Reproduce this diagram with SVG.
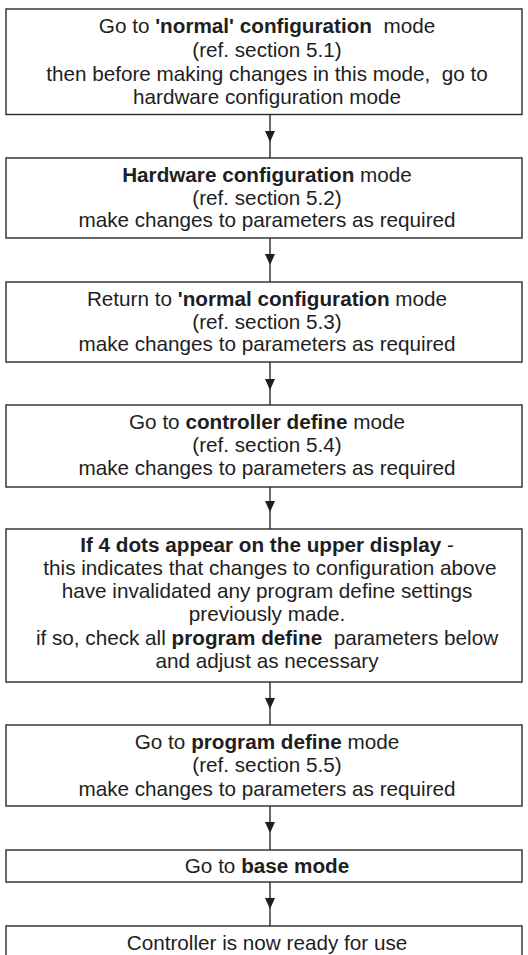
<svg xmlns="http://www.w3.org/2000/svg" width="528" height="955" viewBox="0 0 528 955">
  <defs>
    <style>
      .box { fill: #ffffff; stroke: #2a2a2a; stroke-width: 1.4; }
      .txt { font-family: "Liberation Sans", Arial, sans-serif; font-size: 20.7px; fill: #1e1e1e; text-anchor: middle; white-space: pre; }
      .b { font-weight: bold; }
      .link { fill: none; stroke: #2a2a2a; stroke-width: 1.4; marker-mid: url(#head); }
    </style>
    <!-- downward arrowhead placed on the middle vertex of each connector -->
    <marker id="head" viewBox="-11 -5 11 10" refX="0" refY="0" markerWidth="11" markerHeight="10" markerUnits="userSpaceOnUse" orient="auto">
      <path d="M-11,-5 L0,0 L-11,5 Z" fill="#1e1e1e"/>
    </marker>
  </defs>
  <rect width="528" height="955" fill="#ffffff"/>

  <g id="connectors">
    <path class="link" d="M270,114.5 L270,142 L270,158"/>
    <path class="link" d="M270,238 L270,265 L270,282"/>
    <path class="link" d="M270,362 L270,390 L270,405"/>
    <path class="link" d="M270,487 L270,512 L270,529"/>
    <path class="link" d="M270,682 L270,709 L270,725"/>
    <path class="link" d="M270,806 L270,833 L270,850"/>
    <path class="link" d="M270,882 L270,909 L270,926"/>
  </g>

  <g id="normal-config">
    <rect class="box" x="6" y="9" width="516" height="105.5"/>
    <text class="txt" x="267" y="33">Go to <tspan class="b">'normal' configuration</tspan>  mode</text>
    <text class="txt" x="267" y="56.5">(ref. section 5.1)</text>
    <text class="txt" x="267" y="80.5">then before making changes in this mode,  go to</text>
    <text class="txt" x="267" y="104">hardware configuration mode</text>
  </g>

  <g id="hardware-config">
    <rect class="box" x="6" y="158" width="516" height="80"/>
    <text class="txt" x="267" y="182"><tspan class="b">Hardware configuration</tspan> mode</text>
    <text class="txt" x="267" y="204.5">(ref. section 5.2)</text>
    <text class="txt" x="267" y="227">make changes to parameters as required</text>
  </g>

  <g id="return-normal">
    <rect class="box" x="6" y="282" width="516" height="80"/>
    <text class="txt" x="267" y="306">Return to <tspan class="b">'normal configuration</tspan> mode</text>
    <text class="txt" x="267" y="328.5">(ref. section 5.3)</text>
    <text class="txt" x="267" y="351">make changes to parameters as required</text>
  </g>

  <g id="controller-define">
    <rect class="box" x="6" y="405" width="516" height="82"/>
    <text class="txt" x="267" y="429">Go to <tspan class="b">controller define</tspan> mode</text>
    <text class="txt" x="267" y="452">(ref. section 5.4)</text>
    <text class="txt" x="267" y="475">make changes to parameters as required</text>
  </g>

  <g id="four-dots-check">
    <rect class="box" x="6" y="529" width="516" height="153"/>
    <text class="txt" x="267" y="552"><tspan class="b">If 4 dots appear on the upper display</tspan> -</text>
    <text class="txt" x="267" y="575"> this indicates that changes to configuration above</text>
    <text class="txt" x="267" y="598">have invalidated any program define settings</text>
    <text class="txt" x="267" y="621">previously made.</text>
    <text class="txt" x="267" y="645">if so, check all <tspan class="b">program define</tspan>  parameters below</text>
    <text class="txt" x="267" y="668">and adjust as necessary</text>
  </g>

  <g id="program-define">
    <rect class="box" x="6" y="725" width="516" height="81"/>
    <text class="txt" x="267" y="749">Go to <tspan class="b">program define</tspan> mode</text>
    <text class="txt" x="267" y="772">(ref. section 5.5)</text>
    <text class="txt" x="267" y="796">make changes to parameters as required</text>
  </g>

  <g id="base-mode">
    <rect class="box" x="6" y="850" width="516" height="32"/>
    <text class="txt" x="267" y="873">Go to <tspan class="b">base mode</tspan></text>
  </g>

  <g id="ready">
    <rect class="box" x="6" y="926" width="516" height="40"/>
    <text class="txt" x="267" y="950">Controller is now ready for use</text>
  </g>
</svg>
